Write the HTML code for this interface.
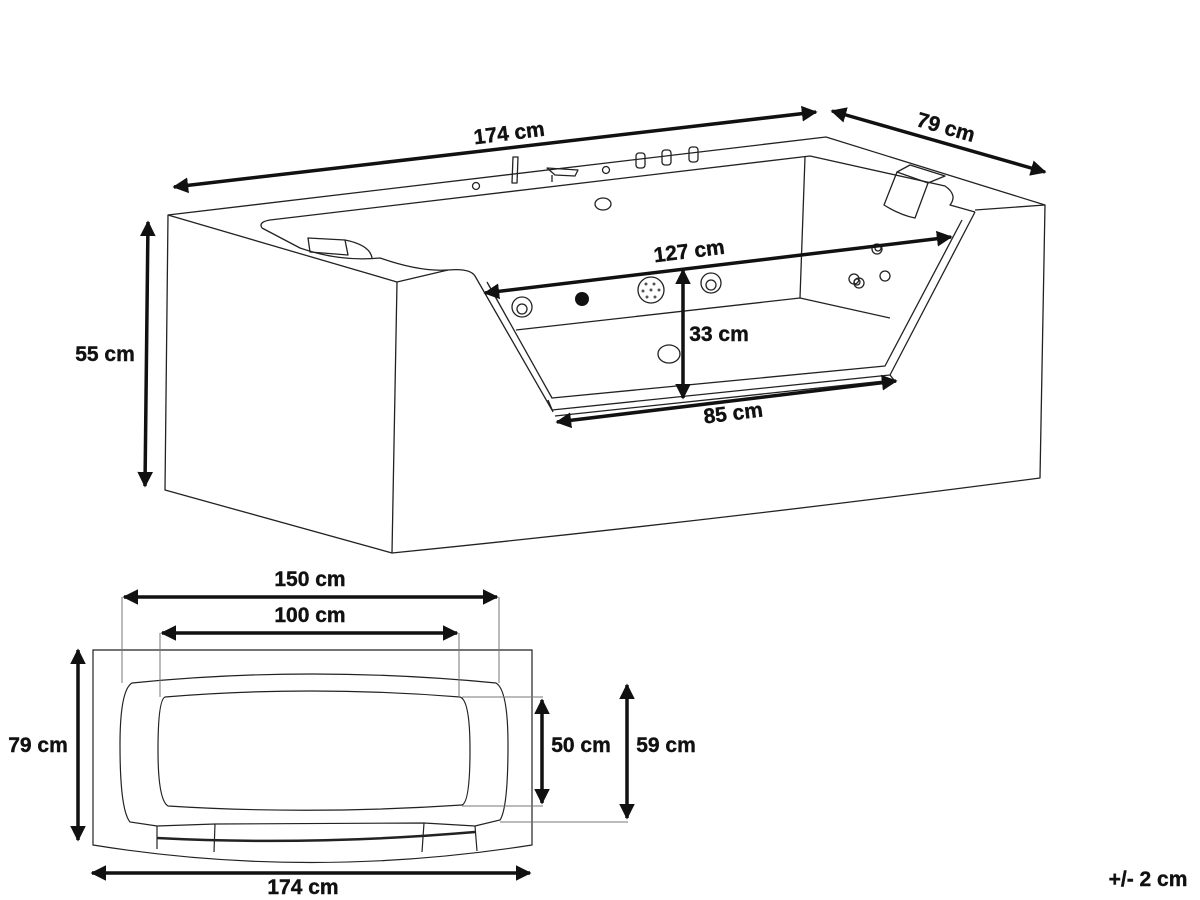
<!DOCTYPE html>
<html><head><style>
html,body{margin:0;padding:0;background:#fff;}
svg{display:block;}
text{font-family:"Liberation Sans",sans-serif;font-weight:bold;fill:#111;stroke:#111;stroke-width:0.4;}
</style></head><body>
<svg width="1200" height="900" viewBox="0 0 1200 900" xmlns="http://www.w3.org/2000/svg">
<defs>
<marker id="a" viewBox="0 0 10 10" refX="9" refY="5" markerWidth="4.5" markerHeight="4.5" orient="auto-start-reverse"><path d="M0,0 L10,5 L0,10 z" fill="#111"/></marker>
</defs>
<g fill="none" stroke="#222" stroke-width="1.3" stroke-linejoin="round">
<path d="M168,215 L826,137 L1045,205 L1040,478 Q720,520 392,553 L165,490 Z"/>
<path d="M168,215 L397,282"/>
<path d="M397,282 L392,553"/>
<path d="M1045,205 L975,210"/>
<path d="M397,282 L448,270 Q470,268 475,276 L552,410 L890,375 L975,212"/>
<path d="M487,282 L552,398 L885,366 L962,220"/>
<path d="M548,400 L553,412"/>
<path d="M555,416 L894,380 L890,375"/>
<path d="M262,228 Q258,222 270,220 L810,156 L945,186 Q958,195 950,205 L975,212"/>
<path d="M262,228 L300,248 Q340,262 380,258 Q420,272 448,270"/>
<path d="M805,157 L800,298"/>
<path d="M516,330 L800,298 L890,318"/>
<path d="M308,238 L345,240 L348,255 L310,252 Z"/>
<path d="M345,240 Q370,245 372,258"/>
<path d="M897,172 L910,165 L945,176 L928,183 Z M897,172 L884,205 Q900,215 915,218 L928,183"/>
<path d="M513,157 L518,157 L517,183 L512,183 Z"/>
<path d="M547,168 L578,170 L575,176 L555,175 Z M552,175 L552,182"/>
<rect x="636" y="153" width="9" height="15" rx="3"/>
<rect x="662" y="150" width="9" height="15" rx="3"/>
<rect x="689" y="147" width="9" height="15" rx="3"/>
<circle cx="476" cy="186" r="3.5"/>
<circle cx="606" cy="170" r="3.5"/>
<ellipse cx="603" cy="204" rx="8" ry="6"/>
<circle cx="522" cy="307" r="10"/><circle cx="522" cy="309" r="5"/>
<circle cx="711" cy="283" r="10"/><circle cx="711" cy="285" r="5"/>
<circle cx="651" cy="290" r="13"/>
<circle cx="854" cy="279" r="5"/><circle cx="877" cy="249" r="5"/>
<circle cx="859" cy="283" r="5"/><circle cx="885" cy="276" r="5"/>
<circle cx="878" cy="248" r="3"/><circle cx="857" cy="282" r="3"/>
<ellipse cx="669" cy="354" rx="11" ry="9"/>
</g>
<circle cx="582" cy="299" r="7" fill="#111"/>
<g fill="#555"><circle cx="646" cy="284" r="1.5"/><circle cx="654" cy="284" r="1.5"/><circle cx="643" cy="291" r="1.5"/><circle cx="651" cy="290" r="1.5"/><circle cx="659" cy="290" r="1.5"/><circle cx="647" cy="297" r="1.5"/><circle cx="655" cy="297" r="1.5"/></g>

<g stroke="#111" stroke-width="3.5" marker-start="url(#a)" marker-end="url(#a)">
<line x1="174" y1="187" x2="816" y2="112"/>
<line x1="832" y1="111" x2="1045" y2="172"/>
<line x1="148" y1="222" x2="145" y2="486"/>
<line x1="485" y1="293" x2="951" y2="237"/>
<line x1="683" y1="270" x2="683" y2="398"/>
<line x1="557" y1="422" x2="896" y2="381"/>
</g>
<text x="510" y="140" font-size="21" text-anchor="middle" transform="rotate(-7 510 140)">174 cm</text>
<text x="944" y="134" font-size="21" text-anchor="middle" transform="rotate(16 944 134)">79 cm</text>
<text x="105" y="361" font-size="21" text-anchor="middle">55 cm</text>
<text x="690" y="258" font-size="21" text-anchor="middle" transform="rotate(-7 690 258)">127 cm</text>
<text x="719" y="341" font-size="21" text-anchor="middle">33 cm</text>
<text x="734" y="420" font-size="21" text-anchor="middle" transform="rotate(-7 734 420)">85 cm</text>

<g fill="none" stroke="#222" stroke-width="1.2">
<path d="M93,650 L532,650 L532,845 Q310,880 93,845 Z"/>
<path d="M132,683 Q310,665 496,683 Q508,690 508,745 Q508,808 500,820 L475,826 L424,823 L215,824 L157,826 L130,822 Q120,810 120,745 Q120,690 132,683 Z"/>
<path d="M165,697 Q310,685 460,697 Q470,700 470,750 Q470,802 462,805 Q310,815 168,806 Q158,800 158,750 Q158,700 165,697 Z"/>
<path d="M157,826 L157,849 M475,826 L477,851 M215,824 L214,852 M424,823 L422,852"/>
</g>
<path d="M157,838 Q310,846 475,832" stroke="#222" stroke-width="2.5" fill="none"/>
<g fill="none" stroke="#777" stroke-width="1">
<path d="M122,597 L122,683 M499,597 L499,683 M160,633 L160,697 M459,633 L459,697"/>
<path d="M462,697 L543,697 M462,806 L543,806 M500,822 L628,822"/>
</g>
<g stroke="#111" stroke-width="3.5" marker-start="url(#a)" marker-end="url(#a)">
<line x1="124" y1="597" x2="497" y2="597"/>
<line x1="162" y1="633" x2="457" y2="633"/>
<line x1="78" y1="650" x2="78" y2="840"/>
<line x1="92" y1="873" x2="530" y2="873"/>
<line x1="542" y1="700" x2="542" y2="803"/>
<line x1="627" y1="685" x2="627" y2="818"/>
</g>
<text x="310" y="586" font-size="21" text-anchor="middle">150 cm</text>
<text x="310" y="622" font-size="21" text-anchor="middle">100 cm</text>
<text x="38" y="752" font-size="21" text-anchor="middle">79 cm</text>
<text x="303" y="894" font-size="21" text-anchor="middle">174 cm</text>
<text x="581" y="752" font-size="21" text-anchor="middle">50 cm</text>
<text x="666" y="752" font-size="21" text-anchor="middle">59 cm</text>
<text x="1148" y="886" font-size="21" text-anchor="middle">+/- 2 cm</text>
</svg>
</body></html>
